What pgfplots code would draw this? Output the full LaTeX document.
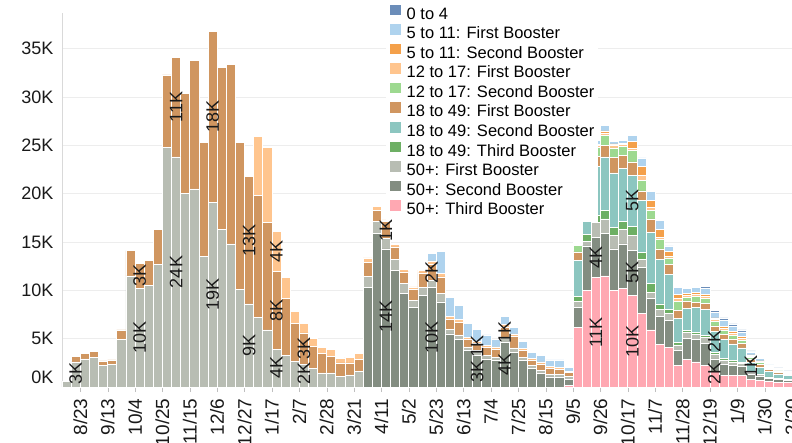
\documentclass[border=0pt]{standalone}
\usepackage{fontspec}
\setmainfont{Liberation Sans}
\usepackage{pgfplots}
\pgfplotsset{compat=1.18}
\usepackage{pgfplotstable}

\definecolor{cZ}{HTML}{6B8DB9}
\definecolor{cCa}{HTML}{AFD3EE}
\definecolor{cCb}{HTML}{F4A04A}
\definecolor{cTa}{HTML}{FFC58E}
\definecolor{cTb}{HTML}{9DD990}
\definecolor{cAa}{HTML}{D09660}
\definecolor{cAb}{HTML}{8CC6C0}
\definecolor{cAc}{HTML}{6DAF64}
\definecolor{cPa}{HTML}{B8BDB3}
\definecolor{cPb}{HTML}{838D81}
\definecolor{cPc}{HTML}{FFA8B2}

% x P3 P2 P1 A3 A2 A1 T2 T1 C2 C1 Z   (values in thousands)
\pgfplotstableread{
x  P3   P2   P1   A3   A2   A1   T2   T1   C2   C1   Z
0  0    0    0.6  0    0    0    0    0    0    0    0
1  0    0    2.6  0    0    0.6  0    0    0    0    0
2  0    0    2.9  0    0    0.6  0    0    0    0    0
3  0    0    3.1  0    0    0.6  0    0    0    0    0
4  0    0    2.25 0    0    0.45 0    0    0    0    0
5  0    0    2.35 0    0    0.45 0    0    0    0    0
6  0    0    4.9  0    0    1.0  0    0    0    0    0
7  0    0    11.5 0    0    2.6  0    0    0    0    0
8  0    0    10.2 0    0    2.6  0    0    0    0    0
9  0    0    10.5 0    0    2.6  0    0    0    0    0
10 0    0    12.7 0    0    3.6  0    0    0    0    0
11 0    0    24.8 0    0    7.5  0    0    0    0    0
12 0    0    23.8 0    0    10.3 0    0    0    0    0
13 0    0    20.0 0    0    10.4 0    0    0    0    0
14 0    0    20.5 0    0    13.3 0    0    0    0    0
15 0    0    13.5 0    0    11.8 0    0    0    0    0
16 0    0    19.1 0    0    17.7 0    0    0    0    0
17 0    0    16.3 0    0    16.8 0    0    0    0    0
18 0    0    14.8 0    0    18.6 0    0    0    0    0
19 0    0    10.1 0    0    15.2 0    0    0    0    0
20 0    0    8.6  0    0    13.2 0    0    0    0    0
21 0    0    7.2  0    0    12.6 0    6.1  0    0    0
22 0    0    5.9  0    0    11.1 0    7.8  0    0    0
23 0    0    3.9  0    0    8.1  0    4.1  0    0    0
24 0    0    3.3  0    0    5.9  0    2.1  0    0    0
25 0    0    2.65 0    0    3.95 0    1.2  0    0    0
26 0    0    2.35 0    0    3.25 0    1.0  0    0    0
27 0    0    1.9  0    0    2.3  0    0.8  0    0    0
28 0    0    1.45 0    0    2.0  0    0.65 0    0    0
29 0    0    1.45 0    0    1.75 0    0.7  0    0    0
30 0    0    1.1  0    0    1.4  0    0.45 0    0    0
31 0    0    1.25 0    0    1.25 0    0.6  0    0    0
32 0    0    1.6  0    0    1.25 0    0.6  0    0    0
33 0    10.3 1.15 0    0    1.45 0    0.45 0    0    0
34 0    15.9 1.2  0    0    1.2  0    0.4  0    0    0
35 0    14.3 1.05 0    0    1.75 0    0.2  0    0    0
36 0    12.1 1.1  0    0    1.3  0    0.25 0    0    0
37 0    9.7  1.0  0    0    1.2  0    0.3  0    0    0
38 0    8.2  0.8  0    0    1.1  0    0.25 0    0    0
39 0    9.5  0.8  0    0    1.5  0    0.3  0    0    0
40 0    10.3 0.7  0    0    1.7  0    0.35 0    0.8  0
41 0    8.8  0.87 0    0    1.72 0    0.34 0    2.34 0
42 0    5.5  0.5  0    0    1.05 0    0.25 0    2.0  0
43 0    4.9  0.5  0    0    1.3  0    0.3  0    1.45 0
44 0    3.8  0.35 0    0    0.75 0    0.2  0    1.5  0
45 0    3.3  0.5  0    0    0.7  0    0.25 0    1.25 0
46 0    2.9  0.35 0    0    0.85 0    0.2  0    1.1  0
47 0    2.75 0.35 0    0    0.85 0    0.2  0    0.75 0
48 0    4.65 0.5  0    0    1.0  0    0.35 0    0.8  0
49 0    3.6  0.45 0    0    1.2  0    0.25 0    0.7  0
50 0    2.75 0.35 0    0    0.7  0    0.2  0    0.75 0
51 0    1.9  0.3  0    0    0.6  0    0.2  0    0.6  0
52 0    1.4  0.3  0    0    0.7  0    0.2  0    0.7  0
53 0    1.05 0.25 0    0    0.6  0    0.2  0    0.7  0
54 0    1.0  0.3  0    0    0.55 0    0.2  0    0.75 0
55 0.2  0.6  0.3  0    0    0.4  0    0.15 0    0.4  0
56 6.2  2.0  0.67 0.5  3.7  0.9  0.65 0.15 0.1  0.1  0
57 10.0 4.6  0.5  0.7  4.5  1.0  0.8  0.2  0.1  0.3  0
58 11.3 4.2  1.5  0.8  5.0  1.1  0.9  0.2  0.1  0.4  0
59 11.5 4.4  1.5  0.9  5.5  1.2  1.0  0.3  0.2  0.6  0
60 10.0 4.3  1.4  0.85 5.6  1.6  1.0  0.3  0.1  0.3  0
61 10.2 4.6  1.5  0.8  5.5  1.4  0.9  0.2  0.1  0.3  0
62 9.5  4.6  1.6  0.9  5.3  1.4  1.2  0.2  0.7  0.6  0
63 7.65 4.75 0.8  0.7  5.4  1.0  1.1  0.5  0.9  0.9  0
64 5.9  3.25 0.65 0.9  5.3  1.4  0.9  0.3  0.7  0.9  0
65 4.4  2.9  0.7  0.6  4.6  1.1  1.0  0.2  0.8  0.9  0
66 4.1  2.8  0.7  0.45 3.6  1.0  0.7  0.2  0.45 0.6  0
67 2.2  1.55 0.6  0.25 2.5  0.85 0.9  0.3  0.4  0.75 0
68 2.83 2.17 0.66 0.2  2.24 0.8  0.41 0.17 0.24 0.45 0
69 2.59 2.31 0.55 0.24 2.52 0.58 0.59 0.21 0.24 0.45 0
70 2.24 2.31 0.62 0.17 2.66 0.62 0.52 0.24 0.21 0.58 0.24
71 1.6  1.3  0.5  0.17 2.2  0.55 0.5  0.17 0.17 0.6  0.17
72 1.2  1.15 0.45 0.15 2.0  0.5  0.4  0.2  0.25 0.6  0.25
73 1.2  1.0  0.4  0.12 1.75 0.5  0.4  0.15 0.25 0.5  0.25
74 1.2  0.9  0.35 0.1  1.5  0.45 0.35 0.15 0.25 0.45 0.2
75 0.8  0.5  0.25 0.08 0.9  0.3  0.25 0.1  0.15 0.3  0.1
76 0.7  0.4  0.2  0.06 0.7  0.25 0.2  0.08 0.12 0.25 0.07
77 0.55 0.3  0.15 0.05 0.55 0.2  0.15 0.06 0.1  0.18 0.05
78 0.5  0.25 0.12 0.04 0.45 0.17 0.13 0.05 0.08 0.15 0.03
79 0.45 0.2  0.1  0.03 0.38 0.14 0.1  0.04 0.07 0.12 0.03
}\data

\begin{document}
\begin{tikzpicture}[lab/.style={rotate=90, font=\fontsize{18}{18}\selectfont, text=black!90, inner sep=0pt}]
\begin{axis}[
  at={(62pt,55pt)}, anchor=south west, scale only axis,
  width=730pt, height=374pt,
  xmin=-0.5, xmax=79.5, ymin=0, ymax=38.7,
  ybar stacked, bar width=1,
  axis x line*=bottom, axis y line*=left,
  x axis line style={draw=none},
  y axis line style={draw=black!15},
  ymajorgrids, grid style={draw=black!7, line width=0.8pt},
  ytick={0,5,10,15,20,25,30,35},
  yticklabels={\raisebox{20pt}{0K},5K,10K,15K,20K,25K,30K,35K},
  yticklabel style={font=\fontsize{18}{18}\selectfont, text=black!90},
  ytick style={draw=none},
  xtick={1.5,4.5,...,79.5},
  xticklabels={8/23,9/13,10/4,10/25,11/15,12/6,12/27,1/17,2/7,2/28,3/21,4/11,5/2,5/23,6/13,7/4,7/25,8/15,9/5,9/26,10/17,11/7,11/28,12/19,1/9,1/30,2/20},
  xticklabel style={yshift=-3pt, rotate=90, anchor=east, font=\fontsize{19}{19}\selectfont, text=black!90},
  tick align=outside, major tick length=5pt,
  xtick style={draw=black!25},
  every axis plot/.append style={draw=white, line width=0.6pt},
  reverse legend,
  legend cell align=left,
  legend image code/.code={\fill[#1,draw=none] (0pt,0.5pt) rectangle (10.5pt,11pt);},
  legend style={at={(0.4438,1.028)}, anchor=north west, draw=none, fill=white,
    font=\fontsize{16.5}{19.3}\selectfont, inner xsep=4pt, inner ysep=2pt, row sep=0pt,
    nodes={inner sep=0pt, text height=12pt, text depth=5.1pt},
    /tikz/every odd column/.append style={column sep=6pt}},
]
\addplot[fill=cPc] table[x=x,y=P3] {\data};
\addplot[fill=cPb] table[x=x,y=P2] {\data};
\addplot[fill=cPa] table[x=x,y=P1] {\data};
\addplot[fill=cAc] table[x=x,y=A3] {\data};
\addplot[fill=cAb] table[x=x,y=A2] {\data};
\addplot[fill=cAa] table[x=x,y=A1] {\data};
\addplot[fill=cTb] table[x=x,y=T2] {\data};
\addplot[fill=cTa] table[x=x,y=T1] {\data};
\addplot[fill=cCb] table[x=x,y=C2] {\data};
\addplot[fill=cCa] table[x=x,y=C1] {\data};
\addplot[fill=cZ] table[x=x,y=Z] {\data};
\legend{50+: Third Booster,50+: Second Booster,50+: First Booster,18 to 49: Third Booster,18 to 49: Second Booster,18 to 49: First Booster,12 to 17: Second Booster,12 to 17: First Booster,5 to 11: Second Booster,5 to 11: First Booster,0 to 4}

\coordinate (a1) at (axis cs:1,1.35);
\coordinate (a2) at (axis cs:8,5.1);
\coordinate (a3) at (axis cs:8,11.5);
\coordinate (a4) at (axis cs:12,11.9);
\coordinate (a5) at (axis cs:12,28.95);
\coordinate (a6) at (axis cs:16,9.55);
\coordinate (a7) at (axis cs:16,27.95);
\coordinate (a8) at (axis cs:20,4.3);
\coordinate (a9) at (axis cs:20,15.2);
\coordinate (a10) at (axis cs:23,2.0);
\coordinate (a11) at (axis cs:23,7.95);
\coordinate (a12) at (axis cs:23,14.05);
\coordinate (a13) at (axis cs:26,1.35);
\coordinate (a14) at (axis cs:26,3.95);
\coordinate (a15) at (axis cs:35,7.3);
\coordinate (a16) at (axis cs:35,16.2);
\coordinate (a17) at (axis cs:40,5.15);
\coordinate (a18) at (axis cs:40,11.85);
\coordinate (a19) at (axis cs:45,1.6);
\coordinate (a20) at (axis cs:45,4.15);
\coordinate (a21) at (axis cs:48,2.3);
\coordinate (a22) at (axis cs:48,5.65);
\coordinate (a23) at (axis cs:58,5.65);
\coordinate (a24) at (axis cs:58,13.4);
\coordinate (a25) at (axis cs:62,4.75);
\coordinate (a26) at (axis cs:62,11.8);
\coordinate (a27) at (axis cs:62,19.25);
\coordinate (a28) at (axis cs:71,1.35);
\coordinate (a29) at (axis cs:71,4.67);
\coordinate (a30) at (axis cs:75,2.1);
\end{axis}
\node[lab] at (a1) {3K};
\node[lab] at (a2) {10K};
\node[lab] at (a3) {3K};
\node[lab] at (a4) {24K};
\node[lab] at (a5) {11K};
\node[lab] at (a6) {19K};
\node[lab] at (a7) {18K};
\node[lab] at (a8) {9K};
\node[lab] at (a9) {13K};
\node[lab] at (a10) {4K};
\node[lab] at (a11) {8K};
\node[lab] at (a12) {4K};
\node[lab] at (a13) {2K};
\node[lab] at (a14) {3K};
\node[lab] at (a15) {14K};
\node[lab] at (a16) {1K};
\node[lab] at (a17) {10K};
\node[lab] at (a18) {2K};
\node[lab] at (a19) {3K};
\node[lab] at (a20) {1K};
\node[lab] at (a21) {4K};
\node[lab] at (a22) {1K};
\node[lab] at (a23) {11K};
\node[lab] at (a24) {4K};
\node[lab] at (a25) {10K};
\node[lab] at (a26) {5K};
\node[lab] at (a27) {5K};
\node[lab] at (a28) {2K};
\node[lab] at (a29) {2K};
\node[lab] at (a30) {1K};
\pgfresetboundingbox
\useasboundingbox (0,0) rectangle (792pt,442pt);
\end{tikzpicture}
\end{document}
